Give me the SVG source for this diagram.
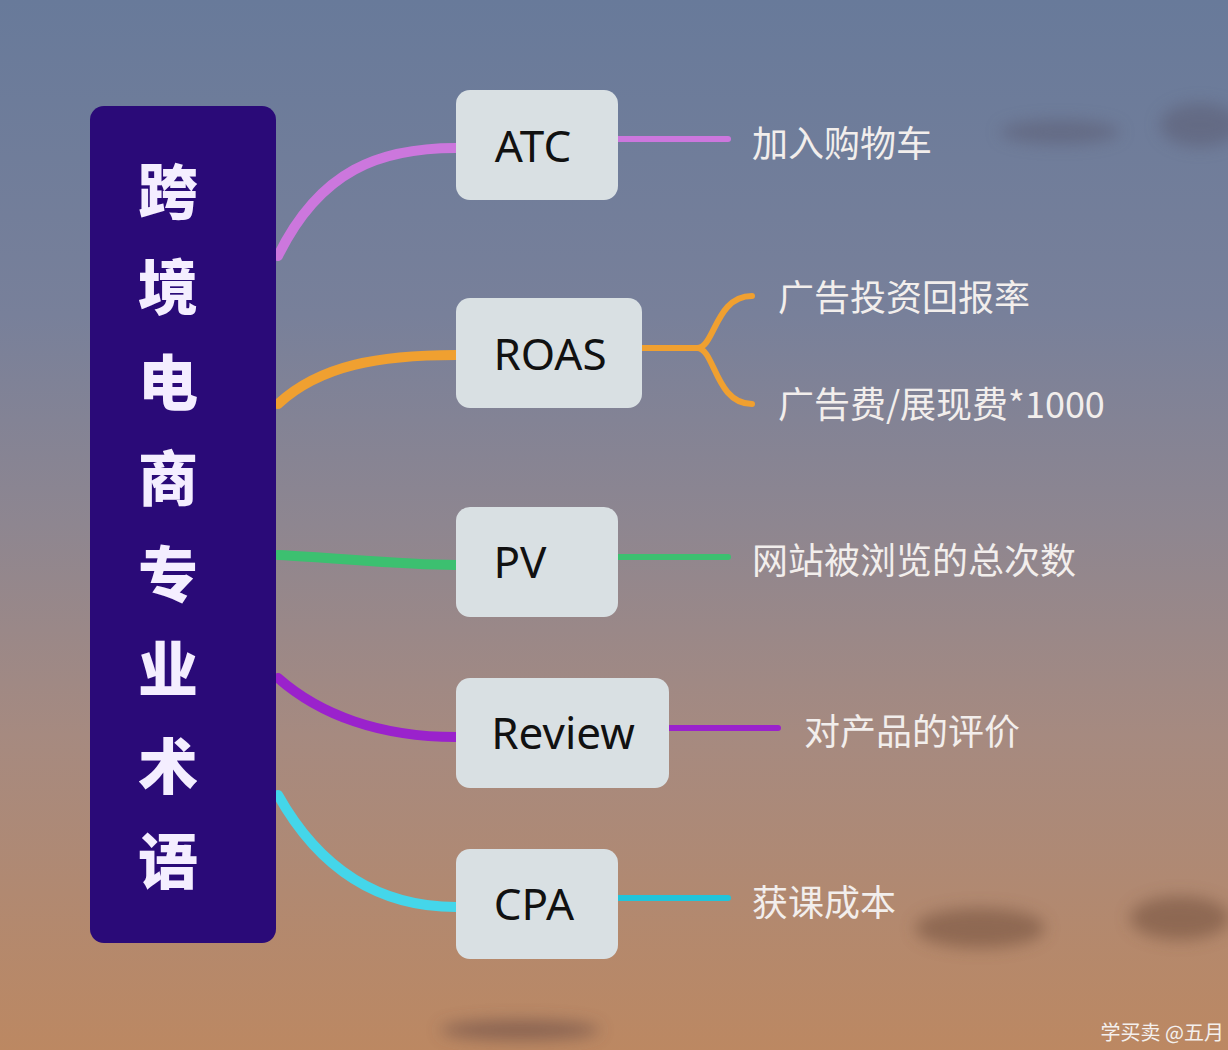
<svg xmlns="http://www.w3.org/2000/svg" width="1228" height="1050" viewBox="0 0 1228 1050">
<defs>
<linearGradient id="sky" x1="0" y1="0" x2="0" y2="1">
<stop offset="0" stop-color="#687a9a"/>
<stop offset="0.3" stop-color="#78809a"/>
<stop offset="0.5" stop-color="#8e8690"/>
<stop offset="0.7" stop-color="#a68a80"/>
<stop offset="1" stop-color="#bc8862"/>
</linearGradient>
<filter id="blur" x="-50%" y="-50%" width="200%" height="200%"><feGaussianBlur stdDeviation="8"/></filter>
<style>
.term{fill:#d9e0e3}
.tl{font-family:"Noto Sans","Open Sans",sans-serif;font-size:44px;fill:#111;text-anchor:middle}
.desc{font-family:"Noto Sans CJK SC","Noto Sans",sans-serif;font-size:36px;fill:#f2eeec}
.main{font-family:"Noto Sans CJK SC",sans-serif;font-size:60px;font-weight:900;fill:#f4eeff;text-anchor:middle}
.c{fill:none;stroke-width:10;stroke-linecap:round}
.l{fill:none;stroke-width:6;stroke-linecap:round}
</style>
</defs>
<rect width="1228" height="1050" fill="url(#sky)"/>
<g opacity="0.5" filter="url(#blur)">
<ellipse cx="1060" cy="132" rx="60" ry="12" fill="#5a5a70"/>
<ellipse cx="1200" cy="125" rx="40" ry="22" fill="#5a5a70"/>
<ellipse cx="980" cy="928" rx="65" ry="20" fill="#6a4838"/>
<ellipse cx="1180" cy="918" rx="50" ry="22" fill="#6a4838"/>
<ellipse cx="520" cy="1030" rx="80" ry="10" fill="#5a4040"/>
</g>
<g id="connectors">
<path class="c" stroke="#cc77dd" d="M278,256 C320,170 380,148 456,148"/>
<path class="c" stroke="#f0a030" d="M278,404 C320,365 380,355 456,355"/>
<path class="c" stroke="#3cc070" d="M278,555 C340,558 400,565 456,565"/>
<path class="c" stroke="#9a22cc" d="M278,678 C320,715 380,737 456,737"/>
<path class="c" stroke="#44d6ea" d="M278,795 C320,870 380,907 456,907"/>
<path class="l" stroke="#cc77dd" d="M618,139 H728"/>
<path class="l" stroke="#f0a030" d="M642,348 H697 C715,348 715,296 752,296 M697,348 C715,348 715,404 752,404"/>
<path class="l" stroke="#3cc070" d="M618,557 H728"/>
<path class="l" stroke="#9a22cc" d="M669,728 H778"/>
<path class="l" stroke="#22c4da" d="M618,898 H728"/>
</g>
<g id="main">
<rect x="90" y="106" width="186" height="837" rx="14" fill="#2a0a78"/>
<text class="main" x="168" y="214">跨</text>
<text class="main" x="168" y="310">境</text>
<text class="main" x="168" y="405">电</text>
<text class="main" x="168" y="501">商</text>
<text class="main" x="168" y="597">专</text>
<text class="main" x="168" y="692">业</text>
<text class="main" x="168" y="789">术</text>
<text class="main" x="168" y="884">语</text>
</g>
<g id="atc"><rect class="term" x="456" y="90" width="162" height="110" rx="14"/><text class="tl" x="533" y="162">ATC</text></g>
<g id="roas"><rect class="term" x="456" y="298" width="186" height="110" rx="14"/><text class="tl" x="550" y="370">ROAS</text></g>
<g id="pv"><rect class="term" x="456" y="507" width="162" height="110" rx="14"/><text class="tl" x="520" y="578">PV</text></g>
<g id="review"><rect class="term" x="456" y="678" width="213" height="110" rx="14"/><text class="tl" x="563" y="749">Review</text></g>
<g id="cpa"><rect class="term" x="456" y="849" width="162" height="110" rx="14"/><text class="tl" x="534" y="920">CPA</text></g>
<g id="desc-atc"><text class="desc" x="752" y="157">加入购物车</text></g>
<g id="desc-roas1"><text class="desc" x="778" y="311">广告投资回报率</text></g>
<g id="desc-roas2"><text class="desc" x="778" y="418">广告费/展现费*1000</text></g>
<g id="desc-pv"><text class="desc" x="752" y="574">网站被浏览的总次数</text></g>
<g id="desc-review"><text class="desc" x="804" y="745">对产品的评价</text></g>
<g id="desc-cpa"><text class="desc" x="752" y="916">获课成本</text></g>
<text x="1224" y="1040" text-anchor="end" font-family="Noto Sans CJK SC,sans-serif" font-size="20" fill="#f4f0ee">学买卖 @五月</text>
</svg>
